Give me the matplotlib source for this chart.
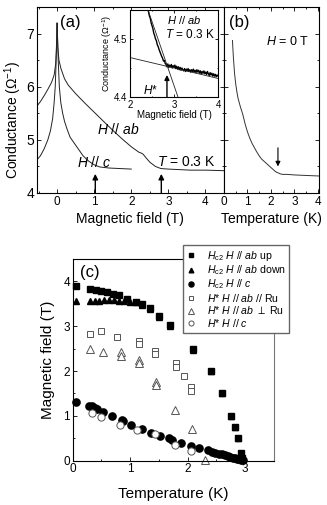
import matplotlib
matplotlib.use("Agg")
import matplotlib.pyplot as plt
from matplotlib.ticker import MultipleLocator

plt.rcParams['font.family'] = ['Liberation Sans', 'DejaVu Sans']
plt.rcParams['mathtext.fontset'] = 'custom'
plt.rcParams['mathtext.rm'] = 'Liberation Sans'
plt.rcParams['mathtext.it'] = 'Liberation Sans:italic'
plt.rcParams['axes.linewidth'] = 0.8

# ---- panel (a): conductance vs field at T = 0.3 K ----
ab_field = [-0.55, -0.45, -0.35, -0.25, -0.15, -0.08, -0.04, -0.02, 0.0, 0.02, 0.05,
            0.1, 0.2, 0.3, 0.5, 0.75, 1.0, 1.25, 1.5, 1.75, 2.0, 2.2, 2.27, 2.32,
            2.4, 2.5, 2.65, 2.8, 3.0, 3.3, 3.6, 4.0, 4.5]
ab_cond = [5.63, 5.72, 5.83, 5.95, 6.08, 6.22, 6.42, 6.7, 7.2, 6.75, 6.5,
           6.35, 6.15, 6.03, 5.87, 5.69, 5.52, 5.35, 5.18, 5.02, 4.87, 4.77, 4.75, 4.73,
           4.66, 4.58, 4.5, 4.46, 4.45, 4.44, 4.43, 4.43, 4.42]
c_field = [-0.55, -0.45, -0.35, -0.25, -0.18, -0.12, -0.08, -0.05, -0.03, -0.01, 0.0,
           0.01, 0.03, 0.06, 0.1, 0.15, 0.2, 0.26, 0.35, 0.45, 0.55, 0.7, 0.85, 1.0,
           1.15, 1.4, 1.7, 2.0]
c_cond = [4.62, 4.7, 4.83, 5.0, 5.17, 5.4, 5.7, 6.0, 6.4, 6.9, 7.2,
          6.95, 6.5, 6.0, 5.7, 5.5, 5.35, 5.22, 5.05, 4.95, 4.85, 4.7, 4.6, 4.53,
          4.49, 4.47, 4.46, 4.45]
a_arrows = [1.03, 2.81]

# ---- inset: H // ab near H* ----
in_field = [2.36, 2.38, 2.40, 2.42, 2.44, 2.46, 2.48, 2.50, 2.52, 2.54, 2.56, 2.58, 2.60,
            2.62, 2.64, 2.66, 2.68, 2.70, 2.72, 2.74, 2.76, 2.78, 2.80, 2.82, 2.84, 2.86,
            2.88, 2.90, 2.92, 2.94, 2.96, 2.98, 3.00, 3.02, 3.04, 3.06, 3.08, 3.10, 3.12,
            3.14, 3.16, 3.18, 3.20, 3.22, 3.24, 3.26, 3.28, 3.30, 3.32, 3.34, 3.36, 3.38,
            3.40, 3.42, 3.44, 3.46, 3.48, 3.50, 3.52, 3.54, 3.56, 3.58, 3.60, 3.62, 3.64,
            3.66, 3.68, 3.70, 3.72, 3.74, 3.76, 3.78, 3.80, 3.82, 3.84, 3.86, 3.88, 3.90,
            3.92, 3.94, 3.96, 3.98, 4.00]
in_cond = [4.566, 4.560, 4.553, 4.547, 4.540, 4.536, 4.528, 4.523, 4.518, 4.510, 4.506,
           4.500, 4.497, 4.490, 4.487, 4.482, 4.478, 4.474, 4.470, 4.467, 4.462, 4.463,
           4.458, 4.456, 4.452, 4.457, 4.451, 4.455, 4.452, 4.456, 4.450, 4.454, 4.451,
           4.455, 4.449, 4.453, 4.448, 4.452, 4.447, 4.451, 4.446, 4.450, 4.447, 4.445,
           4.449, 4.444, 4.448, 4.445, 4.449, 4.444, 4.447, 4.443, 4.447, 4.444, 4.448,
           4.443, 4.446, 4.442, 4.447, 4.443, 4.446, 4.441, 4.445, 4.440, 4.444, 4.441,
           4.445, 4.440, 4.443, 4.439, 4.444, 4.440, 4.437, 4.442, 4.438, 4.441, 4.436,
           4.440, 4.436, 4.439, 4.435, 4.438, 4.436]
fit_steep_x = [2.41, 3.09]
fit_steep_y = [4.55, 4.40]
fit_flat_x = [2.0, 4.0]
fit_flat_y = [4.468, 4.432]
h_star = 2.84

# ---- panel (b): conductance vs temperature at H = 0 ----
b_temp = [0.36, 0.4, 0.45, 0.5, 0.55, 0.6, 0.7, 0.8, 0.9, 1.0, 1.1, 1.2, 1.3, 1.4, 1.5,
          1.6, 1.7, 1.8, 1.9, 2.0, 2.1, 2.2, 2.3, 2.4, 2.5, 2.7, 3.0, 3.5, 4.05]
b_cond = [6.87, 6.55, 6.25, 6.05, 5.9, 5.78, 5.62, 5.48, 5.3, 5.15, 5.03, 4.93, 4.85, 4.77,
          4.7, 4.64, 4.6, 4.56, 4.52, 4.48, 4.44, 4.4, 4.38, 4.36, 4.35, 4.35, 4.34, 4.33, 4.32]
b_arrow = 2.3

# ---- panel (c): phase diagram ----
up_T = [0.05, 0.3, 0.4, 0.5, 0.6, 0.7, 0.8, 0.95, 1.1, 1.2, 1.35, 1.5, 1.7, 2.1, 2.4,
        2.6, 2.75, 2.82, 2.88, 2.93, 2.95]
up_H = [3.9, 3.82, 3.8, 3.78, 3.76, 3.73, 3.7, 3.6, 3.55, 3.5, 3.4, 3.22, 3.02, 2.5, 2.0,
        1.5, 1.0, 0.75, 0.5, 0.17, 0.05]
down_T = [0.05, 0.3, 0.38, 0.46, 0.55, 0.63, 0.72, 0.8, 0.9, 1.0, 1.1, 1.2, 1.35, 1.5, 1.7,
          2.1, 2.4, 2.6, 2.75, 2.82, 2.88, 2.95]
down_H = [3.57, 3.56, 3.57, 3.57, 3.58, 3.58, 3.58, 3.57, 3.56, 3.55, 3.53, 3.48, 3.38, 3.2,
          3.0, 2.48, 2.0, 1.5, 1.0, 0.75, 0.5, 0.1]
hc2c_T = [0.05, 0.28, 0.33, 0.38, 0.42, 0.52, 0.68, 0.85, 0.88, 1.02, 1.2, 1.37, 1.52, 1.68,
          1.72, 1.88, 2.05, 2.2, 2.35, 2.42, 2.48, 2.54, 2.6, 2.65, 2.7, 2.74, 2.78, 2.82,
          2.86, 2.9, 2.93, 2.96]
hc2c_H = [1.32, 1.23, 1.21, 1.18, 1.16, 1.09, 0.99, 0.91, 0.88, 0.8, 0.71, 0.61, 0.54, 0.5,
          0.46, 0.4, 0.33, 0.28, 0.23, 0.2, 0.18, 0.16, 0.14, 0.12, 0.1, 0.09, 0.07, 0.06,
          0.04, 0.03, 0.02, 0.01]
star_ru_T = [0.3, 0.5, 0.77, 1.15, 1.15, 1.43, 1.43, 1.8, 1.8, 1.93, 2.05, 2.05]
star_ru_H = [2.83, 2.9, 2.76, 2.67, 2.6, 2.45, 2.39, 2.18, 2.1, 1.88, 1.65, 1.55]
star_perp_T = [0.3, 0.52, 0.84, 0.84, 1.15, 1.15, 1.44, 1.44, 1.77, 2.08, 2.3]
star_perp_H = [2.5, 2.43, 2.43, 2.33, 2.25, 2.18, 1.76, 1.7, 1.14, 0.71, 0.02]
star_c_T = [0.33, 0.5, 0.83, 1.11, 1.43, 1.78, 2.05]
star_c_H = [1.06, 0.97, 0.8, 0.69, 0.6, 0.36, 0.22]

W, H = 327, 505
fig = plt.figure(figsize=(W / 100, H / 100), dpi=100)


def box(x0, y0, x1, y1):
    # pixel box (top-left origin) -> figure rect
    return [x0 / W, 1 - y1 / H, (x1 - x0) / W, (y1 - y0) / H]


def style(ax, size=8.5):
    ax.tick_params(which='both', direction='in', top=True, right=True,
                   labelsize=size, pad=2, width=0.6)
    ax.tick_params(which='major', length=3)
    ax.tick_params(which='minor', length=1.5)


ink = '#222222'

# panel (a)
axa = fig.add_axes(box(36.7, 7, 224, 193))
axa.plot(ab_field, ab_cond, color=ink, lw=0.7)
axa.plot(c_field, c_cond, color=ink, lw=0.7)
axa.set_xlim(-0.55, 4.5)
axa.set_ylim(4, 7.5)
axa.xaxis.set_major_locator(MultipleLocator(1))
axa.xaxis.set_minor_locator(MultipleLocator(0.5))
axa.yaxis.set_major_locator(MultipleLocator(1))
axa.yaxis.set_minor_locator(MultipleLocator(0.5))
style(axa)
axa.tick_params(axis='y', labelsize=10)
axa.set_xlabel('Magnetic field (T)', fontsize=10, labelpad=3)
axa.set_ylabel(r'Conductance ($\Omega^{-1}$)', fontsize=10, labelpad=2)
axa.yaxis.set_label_coords(-0.07, 0.39)
for xa in a_arrows:
    axa.annotate('', xy=(xa, 4.36), xytext=(xa, 4.0),
                 arrowprops=dict(arrowstyle='-|>', color='black', lw=1.0,
                                 mutation_scale=8, shrinkA=0, shrinkB=0))
axa.text(0.07, 7.2, '(a)', fontsize=12, va='center')
axa.text(1.08, 5.2, r'$H$ // $ab$', fontsize=10, va='center')
axa.text(0.55, 4.58, r'$H$ // $c$', fontsize=10, va='center')
axa.text(2.7, 4.58, r'$T$ = 0.3 K', fontsize=10, va='center')

# inset
axi = fig.add_axes(box(130, 10, 218, 97))
axi.plot(in_field, in_cond, color='black', lw=1.0)
axi.plot(fit_steep_x, fit_steep_y, color=ink, lw=0.6)
axi.plot(fit_flat_x, fit_flat_y, color=ink, lw=0.6)
axi.set_xlim(2, 4)
axi.set_ylim(4.4, 4.55)
axi.xaxis.set_major_locator(MultipleLocator(1))
axi.xaxis.set_minor_locator(MultipleLocator(0.5))
axi.yaxis.set_major_locator(MultipleLocator(0.1))
axi.yaxis.set_minor_locator(MultipleLocator(0.05))
style(axi, 7)
axi.tick_params(which='major', length=2)
axi.tick_params(which='minor', length=1)
axi.set_xlabel('Magnetic field (T)', fontsize=7, labelpad=0)
axi.set_ylabel(r'Conductance ($\Omega^{-1}$)', fontsize=6.5, labelpad=0)
axi.annotate('', xy=(h_star, 4.438), xytext=(h_star, 4.4),
             arrowprops=dict(arrowstyle='-|>', color='black', lw=1.0,
                             mutation_scale=7, shrinkA=0, shrinkB=0))
axi.text(2.3, 4.412, r'$H$*', fontsize=8.5, va='center')
axi.text(2.85, 4.532, r'$H$ // $ab$', fontsize=8, va='center')
axi.text(2.8, 4.507, r'$T$ = 0.3 K', fontsize=8.5, va='center')

# panel (b)
axb = fig.add_axes(box(224, 7, 319, 193))
axb.plot(b_temp, b_cond, color='#333333', lw=0.7)
axb.set_xlim(0, 4.05)
axb.set_ylim(4, 7.5)
axb.xaxis.set_major_locator(MultipleLocator(1))
axb.xaxis.set_minor_locator(MultipleLocator(0.5))
axb.yaxis.set_major_locator(MultipleLocator(1))
axb.yaxis.set_minor_locator(MultipleLocator(0.5))
style(axb)
axb.tick_params(labelleft=False)
axb.set_xlabel('Temperature (K)', fontsize=10, labelpad=3)
axb.annotate('', xy=(b_arrow, 4.5), xytext=(b_arrow, 4.85),
             arrowprops=dict(arrowstyle='-|>', color='black', lw=0.8,
                             mutation_scale=7, shrinkA=0, shrinkB=0))
axb.text(0.2, 7.2, '(b)', fontsize=12, va='center')
axb.text(1.8, 6.85, r'$H$ = 0 T', fontsize=9, va='center')

# panel (c)
axc = fig.add_axes(box(72.7, 259, 274, 460.7))
open_col = '#555555'
h1, = axc.plot(up_T, up_H, 's', ms=4.8, color='black', mec='black', clip_on=False,
               label=r'$H_{\rm c2}$ $H$ // $ab$ up')
h2, = axc.plot(down_T, down_H, '^', ms=4.8, color='black', mec='black', clip_on=False,
               label=r'$H_{\rm c2}$ $H$ // $ab$ down')
h3, = axc.plot(hc2c_T, hc2c_H, 'o', ms=5.2, color='black', mec='black', clip_on=False,
               label=r'$H_{\rm c2}$ $H$ // $c$')
h4, = axc.plot(star_ru_T, star_ru_H, 's', ms=4.8, mfc='white', mec=open_col, mew=0.7,
               clip_on=False, label=r'$H$* $H$ // $ab$ // Ru')
h5, = axc.plot(star_perp_T, star_perp_H, '^', ms=5.2, mfc='white', mec=open_col, mew=0.7,
               clip_on=False, label=r'$H$* $H$ // $ab$ $\perp$ Ru')
h6, = axc.plot(star_c_T, star_c_H, 'o', ms=5.2, mfc='white', mec=open_col, mew=0.7,
               clip_on=False, label=r'$H$* $H$ // $c$')
axc.set_xlim(0, 3.5)
axc.set_ylim(0, 4.5)
axc.xaxis.set_major_locator(MultipleLocator(1))
axc.xaxis.set_minor_locator(MultipleLocator(0.5))
axc.yaxis.set_major_locator(MultipleLocator(1))
axc.yaxis.set_minor_locator(MultipleLocator(0.5))
style(axc)
axc.tick_params(which='both', top=False, right=False)
axc.spines['right'].set_color('#777777')
axc.set_xlabel('Temperature (K)', fontsize=11, labelpad=8)
axc.set_ylabel('Magnetic field (T)', fontsize=11, labelpad=6)
axc.text(0.12, 4.2, '(c)', fontsize=12, va='center')

leg = fig.legend(handles=[h1, h2, h3, h4, h5, h6], loc='upper left',
                 bbox_to_anchor=(183 / W, 1 - 245 / H), fontsize=7.6,
                 markerscale=0.7, handlelength=0.8, handletextpad=1.1,
                 labelspacing=0.05, borderpad=0.35, fancybox=False,
                 framealpha=1, borderaxespad=0)
leg.get_frame().set_edgecolor('#666666')
leg.get_frame().set_linewidth(1.0)

fig.savefig('out.png', dpi=100)
